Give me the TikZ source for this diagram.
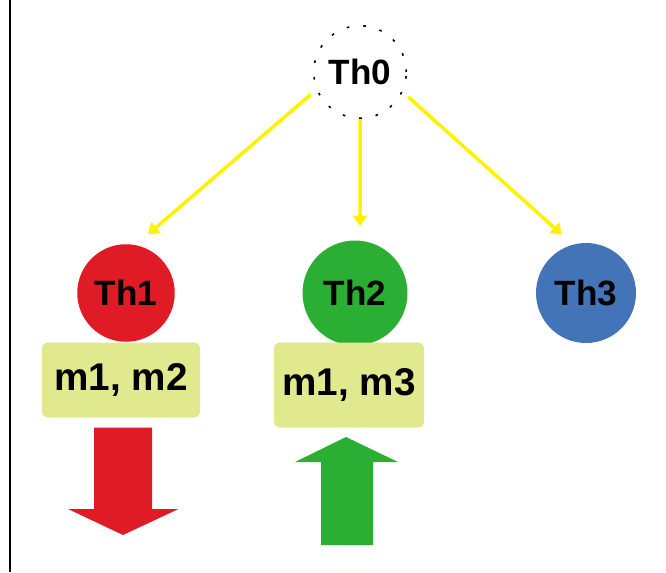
\documentclass[tikz,border=0pt]{standalone}
\usepackage{fontspec}
\setmainfont{Liberation Sans}
\usepackage{tikz}
\usetikzlibrary{
    positioning,
    arrows.meta
}
\definecolor{rojo}{HTML}{DF1B25}
\definecolor{verde}{HTML}{2AAF34}
\definecolor{azul}{HTML}{4474B8}
\definecolor{amarillo}{HTML}{FFF200}
\definecolor{caja}{HTML}{E1E98E}
\tikzset{
    >=Stealth,
    hilo/.style={
        circle,
        inner sep=0pt,
        font=\bfseries\fontsize{20}{24}\selectfont
    },
    candados/.style={
        rectangle,
        rounded corners=3pt,
        fill=caja,
        inner sep=0pt,
        font=\bfseries\fontsize{22}{26}\selectfont
    },
    crea/.style={
        draw=amarillo,
        line width=2pt,
        -{Triangle[width=8pt,length=6pt]}
    }
}

\begin{document}
\begin{tikzpicture}[
    auto,
    >=Stealth
]
    \useasboundingbox (0,0) rectangle (13.32,-11.44);

    % Borde izquierdo
    \draw[line width=1.2pt] (0.2,0) -- (0.2,-11.44);

    % Hilos
    \node[hilo, minimum size=1.85cm, draw, line width=0.9pt,
          dash pattern=on 1.5pt off 8pt]     (th0) at (7.2,-1.44)  {Th0};

    \node[hilo, fill=rojo,  minimum size=1.95cm] (th1) at (2.52,-5.86)  {Th1};
    \node[hilo, fill=verde, minimum size=2.1cm]  (th2) at (7.1,-5.86)   {Th2};
    \node[hilo, fill=azul,  minimum size=2.0cm]  (th3) at (11.72,-5.86) {Th3};

    % Candados de cada hilo
    \node[candados, minimum width=3.16cm, minimum height=1.5cm] (c1) at (2.42,-7.6) {m1, m2};
    \node[candados, minimum width=3.0cm,  minimum height=1.7cm] (c2) at (6.98,-7.7) {m1, m3};

    % Puntas de las flechas de creacion
    \coordinate (e1) at ([shift={(0.44,0.19)}]th1.north);
    \coordinate (e2) at ([shift={(0.1,0.28)}]th2.north);
    \coordinate (e3) at ([shift={(-0.48,0.16)}]th3.north);

    % Th0 crea los hilos
    \draw[crea, shorten <=0.15cm] (th0.202) -- (e1);
    \draw[crea]                   (th0.south) -- (e2);
    \draw[crea, shorten <=0.15cm] (th0.335) -- (e3);

    % Flecha de bajada (Th1)
    \fill[rojo] (1.88,-8.55) -- (3.04,-8.55) -- (3.04,-10.18)
        -- (3.57,-10.18) -- (2.46,-10.7) -- (1.36,-10.18)
        -- (1.88,-10.18) -- cycle;

    % Flecha de subida (Th2)
    \fill[verde] (6.42,-10.9) -- (7.46,-10.9) -- (7.46,-9.24)
        -- (7.96,-9.24) -- (6.92,-8.74) -- (5.9,-9.24)
        -- (6.42,-9.24) -- cycle;

\end{tikzpicture}
\end{document}
